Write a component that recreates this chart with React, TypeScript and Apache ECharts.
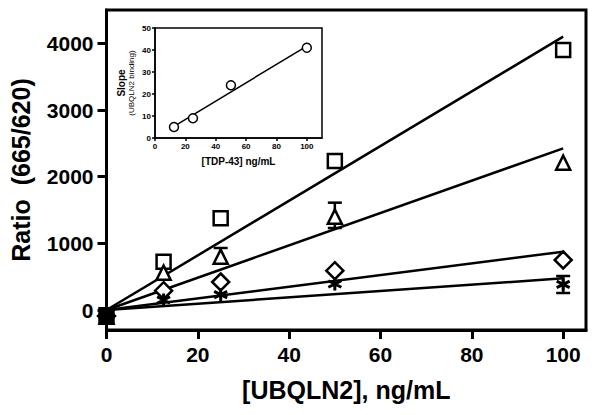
import React, { useEffect, useRef } from "react";
import * as echarts from "echarts";

// ---- Main chart data ----
const ubqln2Conc = [0, 12.5, 25, 50, 100];
const squareRatio = [-80, 725, 1375, 2235, 3900];
const triangleRatio = [-100, 560, 800, 1400, 2210];
const diamondRatio = [-90, 290, 420, 590, 750];
const asteriskRatio = [-70, 150, 230, 390, 385];

const fitX = [0, 100];
const squareFit = [0, 4100];
const triangleFit = [0, 2425];
const diamondFit = [0, 875];
const asteriskFit = [0, 475];

// [x, low, high]
const errorBars = [
  [25, 700, 930],
  [50, 1230, 1610],
  [100, 255, 510],
];

const mainXTicks = [0, 20, 40, 60, 80, 100];
const mainYTicks = [0, 1000, 2000, 3000, 4000];

// ---- Inset data ----
const tdpConc = [12.5, 25, 50, 100];
const slopeValues = [5, 9, 24, 41];
const slopeFitX = [12.5, 100];
const slopeFitY = [5.3, 41.8];
const insetXTicks = [0, 20, 40, 60, 80, 100];
const insetYTicks = [0, 10, 20, 30, 40, 50];

const FONT = "'Liberation Sans', Arial, sans-serif";
const ASTERISK = "path://M0,-10L0,10M-8.66,-5L8.66,5M-8.66,5L8.66,-5";

function pointsOf(xs: number[], ys: number[]) {
  return xs.map((x, i) =>
    x === 0
      ? { value: [x, ys[i]], itemStyle: { color: "#000" } }
      : { value: [x, ys[i]] }
  );
}

function fitOf(ys: number[]) {
  return fitX.map((x, i) => [x, ys[i]]);
}

const plain = (v: number) => String(v);

export default function App() {
  const ref = useRef<HTMLDivElement>(null);

  useEffect(() => {
    if (!ref.current) return;
    const chart = echarts.init(ref.current, null, { renderer: "svg" });

    const lineStyle = { color: "#000", width: 2.5 };
    const fitSeries = [squareFit, triangleFit, diamondFit, asteriskFit].map((f) => ({
      type: "line",
      xAxisIndex: 0,
      yAxisIndex: 0,
      data: fitOf(f),
      symbol: "none",
      lineStyle,
      z: 2,
    }));

    const markerStyle = { color: "#fff", borderColor: "#000", borderWidth: 2.5, opacity: 1 };
    const scatterDefs = [
      { data: squareRatio, symbol: "rect", size: 14, bw: 2.5 },
      { data: triangleRatio, symbol: "triangle", size: 14, bw: 2.5 },
      { data: diamondRatio, symbol: "diamond", size: 17, bw: 2.5 },
      { data: asteriskRatio, symbol: ASTERISK, size: 13, bw: 3 },
    ];
    const scatterSeries = scatterDefs.map((d) => ({
      type: "scatter",
      xAxisIndex: 0,
      yAxisIndex: 0,
      data: pointsOf(ubqln2Conc, d.data),
      symbol: d.symbol,
      symbolSize: d.size,
      itemStyle: { ...markerStyle, borderWidth: d.bw },
      clip: false,
      z: 4,
    }));

    const errSeries = {
      type: "custom",
      xAxisIndex: 0,
      yAxisIndex: 0,
      data: errorBars,
      encode: { x: 0, y: [1, 2] },
      z: 3,
      renderItem: (params: any, api: any) => {
        const x = api.value(0);
        const lo = api.coord([x, api.value(1)]);
        const hi = api.coord([x, api.value(2)]);
        const hw = 7;
        const st = { stroke: "#000", lineWidth: 2.5 };
        return {
          type: "group",
          children: [
            { type: "line", shape: { x1: lo[0], y1: lo[1], x2: hi[0], y2: hi[1] }, style: st },
            { type: "line", shape: { x1: lo[0] - hw, y1: lo[1], x2: lo[0] + hw, y2: lo[1] }, style: st },
            { type: "line", shape: { x1: hi[0] - hw, y1: hi[1], x2: hi[0] + hw, y2: hi[1] }, style: st },
          ],
        };
      },
    };

    const option: any = {
      animation: false,
      backgroundColor: "#fff",
      textStyle: { fontFamily: FONT },
      grid: [
        {
          left: 106.5,
          right: 14,
          top: 10,
          bottom: 85,
          show: true,
          borderColor: "#000",
          borderWidth: 3,
          backgroundColor: "transparent",
        },
        {
          left: 155,
          width: 167,
          top: 28,
          height: 110,
          show: true,
          borderColor: "#000",
          borderWidth: 1.5,
          backgroundColor: "#fff",
          z: 5,
        },
      ],
      xAxis: [
        {
          type: "value",
          gridIndex: 0,
          min: 0,
          max: 105,
          splitLine: { show: false },
          axisLine: { show: true, onZero: false, lineStyle: { color: "#000", width: 3 } },
          axisTick: { show: true, customValues: mainXTicks, length: 9, lineStyle: { color: "#000", width: 3 } },
          axisLabel: {
            customValues: mainXTicks,
            formatter: plain,
            fontSize: 21,
            fontWeight: "bold",
            color: "#000",
            margin: 14,
            fontFamily: FONT,
          },
          name: "[UBQLN2], ng/mL",
          nameLocation: "middle",
          nameGap: 47,
          nameTextStyle: { fontSize: 25, fontWeight: "bold", color: "#000", fontFamily: FONT },
        },
        {
          type: "value",
          gridIndex: 1,
          min: 0,
          max: 110,
          splitLine: { show: false },
          axisLine: { show: true, onZero: false, lineStyle: { color: "#000", width: 1.5 } },
          axisTick: { show: true, customValues: insetXTicks, length: 3, lineStyle: { color: "#000", width: 1.5 } },
          axisLabel: {
            customValues: insetXTicks,
            formatter: plain,
            fontSize: 8,
            fontWeight: "bold",
            color: "#000",
            margin: 4,
            fontFamily: FONT,
          },
          name: "[TDP-43] ng/mL",
          nameLocation: "middle",
          nameGap: 18,
          nameTextStyle: { fontSize: 10, fontWeight: "bold", color: "#000", fontFamily: FONT },
          z: 6,
        },
      ],
      yAxis: [
        {
          type: "value",
          gridIndex: 0,
          min: -300,
          max: 4500,
          splitLine: { show: false },
          axisLine: { show: true, onZero: false, lineStyle: { color: "#000", width: 3 } },
          axisTick: { show: true, customValues: mainYTicks, length: 9, lineStyle: { color: "#000", width: 3 } },
          axisLabel: {
            customValues: mainYTicks,
            formatter: plain,
            fontSize: 21,
            fontWeight: "bold",
            color: "#000",
            margin: 13,
            fontFamily: FONT,
          },
          name: "Ratio  (665/620)",
          nameLocation: "middle",
          nameGap: 73,
          nameTextStyle: { fontSize: 25, fontWeight: "bold", color: "#000", fontFamily: FONT },
        },
        {
          type: "value",
          gridIndex: 1,
          min: 0,
          max: 50,
          splitLine: { show: false },
          axisLine: { show: true, onZero: false, lineStyle: { color: "#000", width: 1.5 } },
          axisTick: { show: true, customValues: insetYTicks, length: 3, lineStyle: { color: "#000", width: 1.5 } },
          axisLabel: {
            customValues: insetYTicks,
            formatter: plain,
            fontSize: 8,
            fontWeight: "bold",
            color: "#000",
            margin: 4,
            fontFamily: FONT,
          },
          z: 6,
        },
      ],
      graphic: [
        {
          type: "text",
          x: 121.5,
          y: 83,
          rotation: Math.PI / 2,
          z: 10,
          style: {
            text: "Slope",
            fontSize: 10,
            fontWeight: "bold",
            fontFamily: FONT,
            fill: "#000",
            align: "center",
            verticalAlign: "middle",
          },
        },
        {
          type: "text",
          x: 131.5,
          y: 83,
          rotation: Math.PI / 2,
          z: 10,
          style: {
            text: "(UBQLN2 binding)",
            fontSize: 8,
            fontFamily: FONT,
            fill: "#000",
            align: "center",
            verticalAlign: "middle",
          },
        },
      ],
      series: [
        ...fitSeries,
        errSeries,
        ...scatterSeries,
        {
          type: "line",
          xAxisIndex: 1,
          yAxisIndex: 1,
          data: slopeFitX.map((x, i) => [x, slopeFitY[i]]),
          symbol: "none",
          lineStyle: { color: "#000", width: 1.5 },
          z: 7,
        },
        {
          type: "scatter",
          xAxisIndex: 1,
          yAxisIndex: 1,
          data: tdpConc.map((x, i) => [x, slopeValues[i]]),
          symbol: "circle",
          symbolSize: 9,
          itemStyle: { color: "#fff", borderColor: "#000", borderWidth: 1.5, opacity: 1 },
          z: 8,
        },
      ],
    };

    chart.setOption(option);
    return () => chart.dispose();
  }, []);

  return (
    <div
      ref={ref}
      style={{ position: "absolute", left: 0, top: 0, width: 600, height: 415, background: "#fff" }}
    />
  );
}
